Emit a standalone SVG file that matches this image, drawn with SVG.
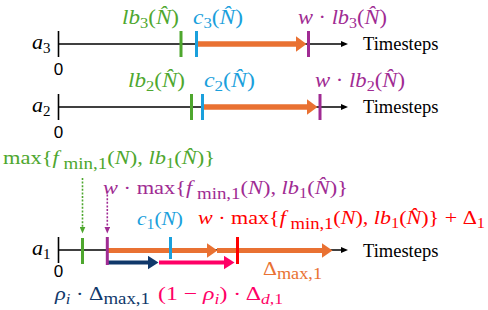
<svg xmlns="http://www.w3.org/2000/svg" width="488" height="310" viewBox="0 0 488 310">
<style>
.m{font-family:"Liberation Serif",serif;}
.i{font-style:italic;}
.ts{font-family:"Liberation Serif",serif;font-size:18.5px;fill:#000;}
.zero{font-family:"Liberation Sans",sans-serif;font-size:17px;fill:#000;text-anchor:middle;}
.ax{stroke:#000;stroke-width:1.3;fill:none;}
.st{stroke:#000;stroke-width:1.6;}
.tk{stroke-width:3;}
.g{fill:#4EA72E;stroke:#4EA72E;}
.b{fill:#1AA0DC;stroke:#1AA0DC;}
.p{fill:#A02B93;stroke:#A02B93;}
.o{fill:#E97132;stroke:#E97132;}
.r{fill:#FF0000;stroke:#FF0000;}
.n{fill:#10386A;stroke:#10386A;}
.k{fill:#FF0066;stroke:#FF0066;}
text.g,text.b,text.p,text.o,text.r,text.n,text.k{stroke:none;}
.dot{stroke-width:1.6;stroke-dasharray:2 1.6;fill:none;}
</style>
<defs>
<marker id="hk" viewBox="0 0 7 6" refX="1" refY="3" markerWidth="7" markerHeight="6" markerUnits="userSpaceOnUse" orient="auto"><path d="M0,0 L7,3 L0,6 Z" fill="#000"/></marker>
<marker id="ho" viewBox="0 0 11 15" refX="0.5" refY="7.5" markerWidth="11" markerHeight="15" markerUnits="userSpaceOnUse" orient="auto"><path d="M0,0 L11,7.5 L0,15 Z" fill="#E97132"/></marker>
<marker id="ho3" viewBox="0 0 11 16" refX="0.5" refY="8" markerWidth="11" markerHeight="16" markerUnits="userSpaceOnUse" orient="auto"><path d="M0,0 L11,8 L0,16 Z" fill="#E97132"/></marker>
<marker id="hn" viewBox="0 0 11 14" refX="0.5" refY="7" markerWidth="11" markerHeight="14" markerUnits="userSpaceOnUse" orient="auto"><path d="M0,0 L11,7 L0,14 Z" fill="#10386A"/></marker>
<marker id="hp" viewBox="0 0 11 14" refX="0.5" refY="7" markerWidth="11" markerHeight="14" markerUnits="userSpaceOnUse" orient="auto"><path d="M0,0 L11,7 L0,14 Z" fill="#FF0066"/></marker>
<marker id="hg" viewBox="0 0 7 6" refX="0.5" refY="3" markerWidth="7" markerHeight="6" markerUnits="userSpaceOnUse" orient="auto"><path d="M0,0 L7,3 L0,6 Z" fill="#4EA72E"/></marker>
<marker id="hpu" viewBox="0 0 7 6" refX="0.5" refY="3" markerWidth="7" markerHeight="6" markerUnits="userSpaceOnUse" orient="auto"><path d="M0,0 L7,3 L0,6 Z" fill="#A02B93"/></marker>
</defs>

<g id="axes">
<line class="ax" x1="58" y1="44" x2="342" y2="44" marker-end="url(#hk)"/>
<line class="st" x1="58.5" y1="31" x2="58.5" y2="57"/>
<line class="ax" x1="58" y1="107" x2="342" y2="107" marker-end="url(#hk)"/>
<line class="st" x1="58.5" y1="94" x2="58.5" y2="120"/>
<line class="ax" x1="58" y1="250" x2="342" y2="250" marker-end="url(#hk)"/>
<line class="st" x1="58.5" y1="237" x2="58.5" y2="263"/>
</g>

<g id="connectors">
<line class="o" stroke-width="5.5" x1="197.5" y1="44" x2="296" y2="44" marker-end="url(#ho3)"/>
<line class="o" stroke-width="5.5" x1="204" y1="107" x2="307" y2="107" marker-end="url(#ho3)"/>
<line class="o" stroke-width="5" x1="108" y1="250.5" x2="207" y2="250.5" marker-end="url(#ho)"/>
<line class="o" stroke-width="5" x1="217" y1="250.5" x2="322" y2="250.5" marker-end="url(#ho)"/>
<line class="n" stroke-width="4" x1="108" y1="262.5" x2="148" y2="262.5" marker-end="url(#hn)"/>
<line class="k" stroke-width="4" x1="159" y1="262.5" x2="224" y2="262.5" marker-end="url(#hp)"/>
<line class="g dot" x1="82.5" y1="178" x2="82.5" y2="227" marker-end="url(#hg)"/>
<line class="p dot" x1="107.3" y1="191" x2="107.3" y2="227" marker-end="url(#hpu)"/>
</g>

<g id="row-a3">
<text class="m i" x="32" y="49" font-size="22">a<tspan class="m" font-style="normal" font-size="15" dy="4">3</tspan></text>
<text class="zero" x="58.5" y="75">0</text>
<text class="ts" x="363" y="50">Timesteps</text>
<line class="g tk" x1="181" y1="31" x2="181" y2="57"/>
<line class="b tk" x1="196.5" y1="31" x2="196.5" y2="57"/>
<line class="p tk" x1="308.5" y1="31" x2="308.5" y2="57"/>
<text class="m g" x="122" y="24" font-size="21" textLength="57" lengthAdjust="spacingAndGlyphs"><tspan class="i">lb</tspan><tspan font-size="15" dy="4">3</tspan><tspan dy="-4">(</tspan><tspan class="i">N&#x302;</tspan>)</text>
<text class="m b" x="193" y="24" font-size="21" textLength="50" lengthAdjust="spacingAndGlyphs"><tspan class="i">c</tspan><tspan font-size="15" dy="4">3</tspan><tspan dy="-4">(</tspan><tspan class="i">N&#x302;</tspan>)</text>
<text class="m p" x="298" y="24" font-size="21" textLength="89" lengthAdjust="spacingAndGlyphs"><tspan class="i">w</tspan> · <tspan class="i">lb</tspan><tspan font-size="15" dy="4">3</tspan><tspan dy="-4">(</tspan><tspan class="i">N&#x302;</tspan>)</text>
</g>

<g id="row-a2">
<text class="m i" x="32" y="112" font-size="22">a<tspan class="m" font-style="normal" font-size="15" dy="4">2</tspan></text>
<text class="zero" x="58.5" y="138">0</text>
<text class="ts" x="363" y="113">Timesteps</text>
<line class="g tk" x1="191.5" y1="94" x2="191.5" y2="120"/>
<line class="b tk" x1="202.5" y1="94" x2="202.5" y2="120"/>
<line class="p tk" x1="320" y1="94" x2="320" y2="120"/>
<text class="m g" x="128" y="87" font-size="21" textLength="57" lengthAdjust="spacingAndGlyphs"><tspan class="i">lb</tspan><tspan font-size="15" dy="4">2</tspan><tspan dy="-4">(</tspan><tspan class="i">N&#x302;</tspan>)</text>
<text class="m b" x="204" y="87" font-size="21" textLength="51" lengthAdjust="spacingAndGlyphs"><tspan class="i">c</tspan><tspan font-size="15" dy="4">2</tspan><tspan dy="-4">(</tspan><tspan class="i">N&#x302;</tspan>)</text>
<text class="m p" x="315" y="87" font-size="21" textLength="90" lengthAdjust="spacingAndGlyphs"><tspan class="i">w</tspan> · <tspan class="i">lb</tspan><tspan font-size="15" dy="4">2</tspan><tspan dy="-4">(</tspan><tspan class="i">N&#x302;</tspan>)</text>
</g>

<g id="row-a1">
<text class="m i" x="32" y="255" font-size="22">a<tspan class="m" font-style="normal" font-size="15" dy="4">1</tspan></text>
<text class="zero" x="58.5" y="277">0</text>
<text class="ts" x="363" y="257">Timesteps</text>
<line class="g tk" x1="82.5" y1="238" x2="82.5" y2="264"/>
<line class="p tk" x1="107.3" y1="237" x2="107.3" y2="265"/>
<line class="b tk" x1="170.5" y1="237" x2="170.5" y2="259"/>
<line class="r tk" x1="237.5" y1="237" x2="237.5" y2="264"/>
<text class="m g" x="3" y="164" font-size="19" textLength="212" lengthAdjust="spacingAndGlyphs">max{<tspan class="i">f</tspan><tspan font-size="16" dy="5"> min,1</tspan><tspan dy="-5">(</tspan><tspan class="i">N</tspan>), <tspan class="i">lb</tspan><tspan font-size="14" dy="4">1</tspan><tspan dy="-4">(</tspan><tspan class="i">N&#x302;</tspan>)}</text>
<text class="m p" x="103" y="193.5" font-size="19" textLength="245" lengthAdjust="spacingAndGlyphs"><tspan class="i">w</tspan> · max{<tspan class="i">f</tspan><tspan font-size="16" dy="5"> min,1</tspan><tspan dy="-5">(</tspan><tspan class="i">N</tspan>), <tspan class="i">lb</tspan><tspan font-size="14" dy="4">1</tspan><tspan dy="-4">(</tspan><tspan class="i">N&#x302;</tspan>)}</text>
<text class="m b" x="137" y="225" font-size="19" textLength="46" lengthAdjust="spacingAndGlyphs"><tspan class="i">c</tspan><tspan font-size="14" dy="4">1</tspan><tspan dy="-4">(</tspan><tspan class="i">N</tspan>)</text>
<text class="m r" x="198" y="224" font-size="19" textLength="287" lengthAdjust="spacingAndGlyphs"><tspan class="i">w</tspan> · max{<tspan class="i">f</tspan><tspan font-size="16" dy="5"> min,1</tspan><tspan dy="-5">(</tspan><tspan class="i">N</tspan>), <tspan class="i">lb</tspan><tspan font-size="14" dy="4">1</tspan><tspan dy="-4">(</tspan><tspan class="i">N&#x302;</tspan>)} + Δ<tspan font-size="14" dy="4">1</tspan></text>
<text class="m o" x="263" y="275" font-size="19" textLength="59" lengthAdjust="spacingAndGlyphs">Δ<tspan font-size="16" dy="4">max,1</tspan></text>
<text class="m n" x="55" y="300" font-size="19" textLength="95" lengthAdjust="spacingAndGlyphs"><tspan class="i">ρ</tspan><tspan class="i" font-size="14" dy="4">i</tspan><tspan dy="-4"> · Δ</tspan><tspan font-size="16" dy="4">max,1</tspan></text>
<text class="m k" x="158" y="300" font-size="19" textLength="125" lengthAdjust="spacingAndGlyphs">(1 − <tspan class="i">ρ</tspan><tspan class="i" font-size="14" dy="4">i</tspan><tspan dy="-4">) · Δ</tspan><tspan class="i" font-size="14" dy="4">d</tspan><tspan font-size="14">,1</tspan></text>
</g>
</svg>
